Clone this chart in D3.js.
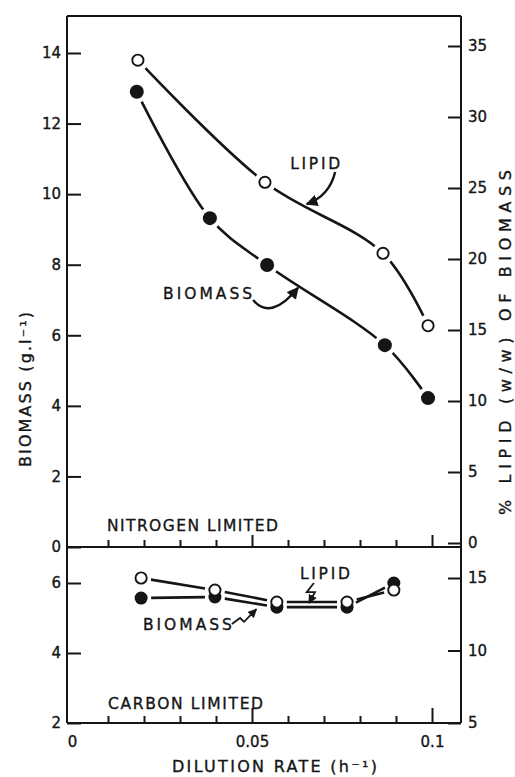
<!DOCTYPE html>
<html>
<head>
<meta charset="utf-8">
<script src="https://cdn.jsdelivr.net/npm/d3@7"></script>
<style>
  html, body { margin: 0; padding: 0; background: #fff; }
  svg { display: block; }
  text { font-family: "DejaVu Sans", sans-serif; fill: #151515; stroke: #151515; stroke-width: 0.35px; }
</style>
</head>
<body>
<svg id="chart" width="515" height="777"></svg>
<script>
// ---------- DATA ----------
// Nitrogen limited (top panel)
const nDilution      = [0.018, 0.0383, 0.0542, 0.0869, 0.0989];
const nBiomass       = [12.9, 9.32, 7.99, 5.72, 4.22];          // g/l (left axis)
const nLipidDilution = [0.0183, 0.0536, 0.0864, 0.0989];
const nLipid         = [34.0, 25.4, 20.4, 15.3];               // % (right axis)
// Carbon limited (bottom panel)
const cDilution      = [0.0192, 0.0397, 0.0569, 0.0764, 0.0894];
const cBiomass       = [5.57, 5.6, 5.31, 5.31, 6.0];           // g/l (left axis)
const cLipid         = [15.0, 14.17, 13.34, 13.34, 14.17];     // % (right axis)

const xTicksMajor   = [0, 0.05, 0.1];
const xTickLabels   = ["0", "0.05", "0.1"];
const xTicksMinor   = [0.01, 0.02, 0.03, 0.04, 0.06, 0.07, 0.08, 0.09];
const topLeftTicks  = [0, 2, 4, 6, 8, 10, 12, 14];
const topRightTicks = [0, 5, 10, 15, 20, 25, 30, 35];
const botLeftTicks  = [2, 4, 6];
const botRightTicks = [5, 10, 15];

// ---------- LAYOUT ----------
const svg = d3.select("#chart");
const L = 67, R = 461, T = 16, M = 547, B = 723;
const ink = "#151515";

const x     = d3.scaleLinear().domain([0, 0.1]).range([72, 432]);
const yTopL = d3.scaleLinear().domain([0, 14]).range([547, 53]);
const yTopR = d3.scaleLinear().domain([0, 35]).range([543, 46]);
const yBotL = d3.scaleLinear().domain([2, 6]).range([723, 583]);
const yBotR = d3.scaleLinear().domain([5, 15]).range([723, 578]);

// arrowhead marker
svg.append("defs").append("marker")
  .attr("id", "ah").attr("viewBox", "0 0 10 10").attr("refX", 9).attr("refY", 5)
  .attr("markerWidth", 5).attr("markerHeight", 5).attr("markerUnits", "strokeWidth")
  .attr("orient", "auto")
  .append("path").attr("d", "M0,0 L10,5 L0,10 Z").attr("fill", ink).attr("stroke", "none");

// ---------- FRAME ----------
const frame = svg.append("g").attr("stroke", ink).attr("stroke-width", 2).attr("fill", "none");
frame.append("line").attr("x1", L).attr("x2", L).attr("y1", T).attr("y2", B);
frame.append("line").attr("x1", R).attr("x2", R).attr("y1", T).attr("y2", B);
frame.append("line").attr("x1", L).attr("x2", R).attr("y1", T).attr("y2", T);
frame.append("line").attr("x1", L).attr("x2", R).attr("y1", M).attr("y2", M);
frame.append("line").attr("x1", L).attr("x2", R).attr("y1", B).attr("y2", B);

function styleAxis(g, fs) {
  g.select(".domain").remove();
  g.selectAll(".tick line").attr("stroke", ink).attr("stroke-width", 2);
  g.selectAll(".tick text").attr("font-size", fs).attr("fill", ink)
    .style("font-family", "DejaVu Sans, sans-serif");
}

// ---------- Y AXES ----------
svg.append("g").attr("transform", `translate(${L},0)`)
  .call(d3.axisLeft(yTopL).tickValues(topLeftTicks).tickSizeInner(-14).tickSizeOuter(0).tickPadding(6).tickFormat(d3.format("d")))
  .call(g => styleAxis(g, 15));
svg.append("g").attr("transform", `translate(${L},0)`)
  .call(d3.axisLeft(yBotL).tickValues(botLeftTicks).tickSizeInner(-14).tickSizeOuter(0).tickPadding(6).tickFormat(d3.format("d")))
  .call(g => styleAxis(g, 15));
svg.append("g").attr("transform", `translate(${R},0)`)
  .call(d3.axisRight(yTopR).tickValues(topRightTicks).tickSizeInner(-13).tickSizeOuter(0).tickPadding(7).tickFormat(d3.format("d")))
  .call(g => styleAxis(g, 15));
svg.append("g").attr("transform", `translate(${R},0)`)
  .call(d3.axisRight(yBotR).tickValues(botRightTicks).tickSizeInner(-13).tickSizeOuter(0).tickPadding(7).tickFormat(d3.format("d")))
  .call(g => styleAxis(g, 15));

// ---------- X AXES ----------
// top panel (ticks upward from the divider)
svg.append("g").attr("transform", `translate(0,${M})`)
  .call(d3.axisBottom(x).tickValues(xTicksMinor).tickSizeInner(-7).tickSizeOuter(0).tickFormat(""))
  .call(g => styleAxis(g, 15));
svg.append("g").attr("transform", `translate(0,${M})`)
  .call(d3.axisBottom(x).tickValues([0.05, 0.1]).tickSizeInner(-12).tickSizeOuter(0).tickFormat(""))
  .call(g => styleAxis(g, 15));
// bottom panel
svg.append("g").attr("transform", `translate(0,${B})`)
  .call(d3.axisBottom(x).tickValues(xTicksMinor).tickSizeInner(-7).tickSizeOuter(0).tickFormat(""))
  .call(g => styleAxis(g, 15));
svg.append("g").attr("transform", `translate(0,${B})`)
  .call(d3.axisBottom(x).tickValues(xTicksMajor).tickSizeInner(-15).tickSizeOuter(0).tickPadding(13)
        .tickFormat((d, i) => xTickLabels[i]))
  .call(g => styleAxis(g, 15))
  .call(g => g.selectAll(".tick").filter(d => d === 0).select("line").remove());

// ---------- TOP PANEL CURVES ----------
const nBio = nDilution.map((d, i) => [x(d), yTopL(nBiomass[i])]);
const nLip = nLipidDilution.map((d, i) => [x(d), yTopR(nLipid[i])]);
const smooth = d3.line().curve(d3.curveCatmullRom.alpha(0.5));

svg.append("path").attr("d", smooth(nLip)).attr("fill", "none").attr("stroke", ink).attr("stroke-width", 2.6);
svg.append("path").attr("d", smooth(nBio)).attr("fill", "none").attr("stroke", ink).attr("stroke-width", 2.6);
// white gaps round the markers
svg.append("g").selectAll("circle").data(nBio.concat(nLip)).join("circle")
  .attr("cx", d => d[0]).attr("cy", d => d[1]).attr("r", 11).attr("fill", "#fff");
svg.append("g").selectAll("circle").data(nBio).join("circle")
  .attr("cx", d => d[0]).attr("cy", d => d[1]).attr("r", 7).attr("fill", ink);
svg.append("g").selectAll("circle").data(nLip).join("circle")
  .attr("cx", d => d[0]).attr("cy", d => d[1]).attr("r", 5.6)
  .attr("fill", "#fff").attr("stroke", ink).attr("stroke-width", 1.9);

// ---------- BOTTOM PANEL SEGMENTS ----------
const cBio = cDilution.map((d, i) => [x(d), yBotL(cBiomass[i])]);
const cLip = cDilution.map((d, i) => [x(d), yBotR(cLipid[i])]);
function segs(pts, gap) {
  const out = [];
  for (let i = 0; i < pts.length - 1; i++) {
    const [x1, y1] = pts[i], [x2, y2] = pts[i + 1];
    const len = Math.hypot(x2 - x1, y2 - y1);
    const ux = (x2 - x1) / len, uy = (y2 - y1) / len;
    out.push([x1 + ux * gap, y1 + uy * gap, x2 - ux * gap, y2 - uy * gap]);
  }
  return out;
}
svg.append("g").selectAll("line").data(segs(cLip, 10).concat(segs(cBio, 10))).join("line")
  .attr("x1", d => d[0]).attr("y1", d => d[1]).attr("x2", d => d[2]).attr("y2", d => d[3])
  .attr("stroke", ink).attr("stroke-width", 2.6);
svg.append("g").selectAll("circle").data(cBio).join("circle")
  .attr("cx", d => d[0]).attr("cy", d => d[1]).attr("r", 6.5).attr("fill", ink);
svg.append("g").selectAll("circle").data(cLip).join("circle")
  .attr("cx", d => d[0]).attr("cy", d => d[1]).attr("r", 5.6)
  .attr("fill", "#fff").attr("stroke", ink).attr("stroke-width", 1.9);

// ---------- ANNOTATIONS ----------
function label(txt, px, py, len, fs, anchor) {
  svg.append("text").attr("x", px).attr("y", py).attr("font-size", fs)
    .attr("text-anchor", anchor || "start")
    .attr("textLength", len).attr("lengthAdjust", "spacing").text(txt);
}
// top panel
label("LIPID", x(0.0606), yTopL(10.72), 50, 15.5);
label("BIOMASS", x(0.0253), yTopL(7.03), 89, 15.5);
label("NITROGEN LIMITED", x(0.0097), yTopL(0.46), 171, 15.5);
const arr = svg.append("g").attr("fill", "none").attr("stroke", ink).attr("stroke-width", 2.4);
arr.append("path")
  .attr("d", `M${x(0.0731)},${yTopL(10.63)} Q${x(0.0715)},${yTopL(9.95)} ${x(0.0652)},${yTopL(9.72)}`)
  .attr("marker-end", "url(#ah)");
arr.append("path")
  .attr("d", `M${x(0.0503)},${yTopL(7.0)} Q${x(0.0552)},${yTopL(6.4)} ${x(0.0628)},${yTopL(7.35)}`)
  .attr("marker-end", "url(#ah)");
// bottom panel
label("LIPID", x(0.0633), yBotL(6.11), 50, 15.5);
label("BIOMASS", x(0.0197), yBotL(4.66), 89, 15.5);
label("CARBON LIMITED", x(0.01), yBotL(2.41), 155, 15.5);
arr.append("path")
  .attr("d", `M${x(0.0672)},${yBotL(6.0)} L${x(0.0652)},${yBotL(5.74)} L${x(0.0675)},${yBotL(5.74)} L${x(0.0658)},${yBotL(5.43)}`)
  .attr("stroke-width", 1.8).attr("marker-end", "url(#ah)");
arr.append("path")
  .attr("d", `M${x(0.0444)},${yBotL(4.83)} L${x(0.0467)},${yBotL(5.0)} L${x(0.0478)},${yBotL(4.89)} L${x(0.0512)},${yBotL(5.25)}`)
  .attr("stroke-width", 1.8).attr("marker-end", "url(#ah)");

// ---------- AXIS TITLES ----------
svg.append("text").attr("transform", "translate(31,467) rotate(-90)")
  .attr("font-size", 16).attr("textLength", 155).attr("lengthAdjust", "spacing")
  .text("BIOMASS (g.l⁻¹)");
svg.append("text").attr("transform", "translate(511,515) rotate(-90)")
  .attr("font-size", 16).attr("textLength", 345).attr("lengthAdjust", "spacing")
  .text("% LIPID (w/w) OF BIOMASS");
svg.append("text").attr("x", 172).attr("y", 772)
  .attr("font-size", 16).attr("textLength", 205).attr("lengthAdjust", "spacing")
  .text("DILUTION  RATE (h⁻¹)");
</script>
</body>
</html>
